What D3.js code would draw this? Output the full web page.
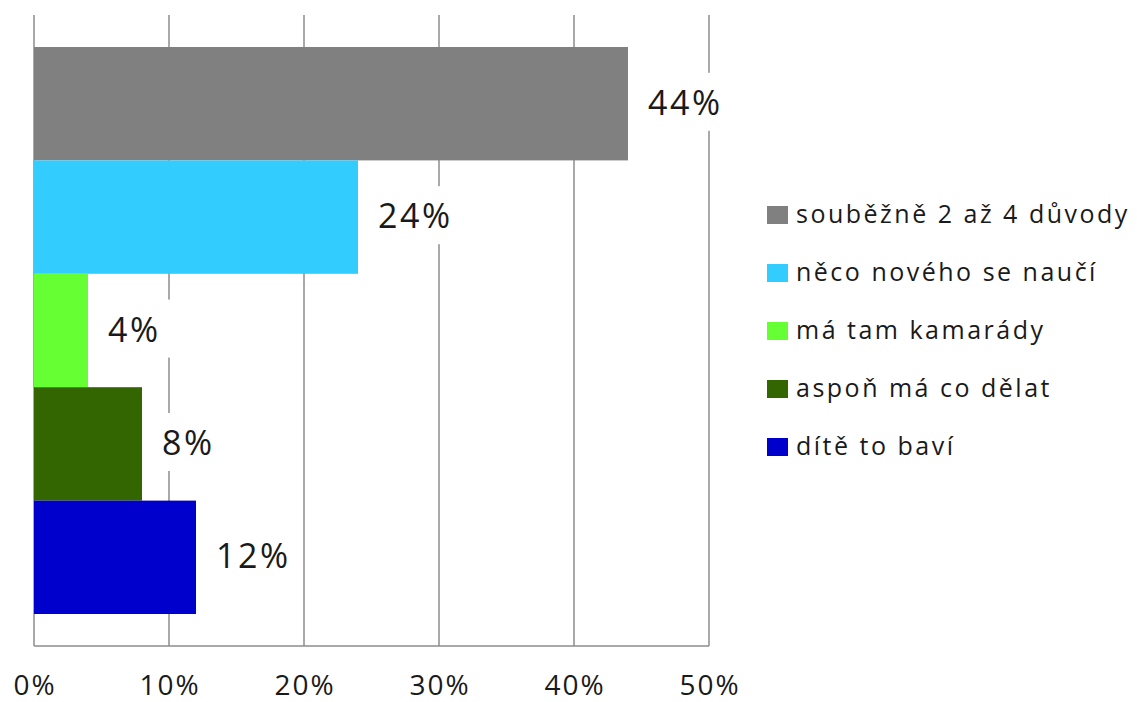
<!DOCTYPE html>
<html lang="cs">
<head>
    <meta charset="UTF-8">
    <title>Důvody</title>
    <script src="https://d3js.org/d3.v7.min.js"></script>
    <style>
        body { margin: 0; background: #fff; }
        text { font-family: "Open Sans", sans-serif; fill: #1a1a1a; }
        .grid line { stroke: #8c8c8c; stroke-width: 1.5px; }
    </style>
</head>
<body>
<div id="chart"></div>
<script>
    // data, top to bottom as drawn
    const series = ["souběžně 2 až 4 důvody", "něco nového se naučí", "má tam kamarády", "aspoň má co dělat", "dítě to baví"];
    const values = [44, 24, 4, 8, 12];
    const colors = ["#808080", "#33ccff", "#66ff33", "#336600", "#0000cc"];
    const ticks = [0, 10, 20, 30, 40, 50];

    const width = 1137, height = 702;
    const plot = { left: 34, right: 709, top: 15, bottom: 646 };

    const svg = d3.select("#chart").append("svg")
        .attr("width", width)
        .attr("height", height);

    const x = d3.scaleLinear().domain([0, 50]).range([plot.left, plot.right]);
    const y = d3.scaleBand().domain(series).range([47, 614]).paddingInner(0);

    // gridlines
    svg.append("g").attr("class", "grid")
        .selectAll("line")
        .data(ticks)
        .enter().append("line")
        .attr("x1", d => x(d)).attr("x2", d => x(d))
        .attr("y1", plot.top).attr("y2", plot.bottom);

    // bottom axis line
    svg.append("line")
        .attr("x1", plot.left).attr("x2", plot.right)
        .attr("y1", plot.bottom).attr("y2", plot.bottom)
        .attr("stroke", "#8c8c8c").attr("stroke-width", 1.5);

    // bars
    svg.append("g")
        .selectAll("rect")
        .data(series)
        .enter().append("rect")
        .attr("x", x(0))
        .attr("y", d => y(d))
        .attr("width", (d, i) => x(values[i]) - x(0))
        .attr("height", y.bandwidth())
        .attr("fill", (d, i) => colors[i]);

    // data labels with white boxes
    const labels = svg.append("g")
        .selectAll("g")
        .data(series)
        .enter().append("g");

    labels.append("rect").attr("fill", "#fff");
    labels.append("text")
        .attr("x", (d, i) => x(values[i]) + 20)
        .attr("y", d => y(d) + y.bandwidth() / 2 + 2)
        .attr("dominant-baseline", "middle")
        .style("font-size", "34px")
        .style("letter-spacing", "2.5px")
        .text((d, i) => values[i] + "%");

    labels.each(function() {
        const g = d3.select(this);
        const b = g.select("text").node().getBBox();
        g.select("rect")
            .attr("x", b.x - 12).attr("y", b.y + b.height / 2 - 29)
            .attr("width", b.width + 22).attr("height", 58);
    });

    // tick labels
    svg.append("g")
        .selectAll("text")
        .data(ticks)
        .enter().append("text")
        .attr("x", d => x(d) + 1)
        .attr("y", 695)
        .attr("text-anchor", "middle")
        .style("font-size", "28px")
        .style("letter-spacing", "2px")
        .text(d => d + "%");

    // legend
    const legend = svg.append("g")
        .selectAll("g")
        .data(series)
        .enter().append("g")
        .attr("transform", (d, i) => `translate(767, ${215 + i * 58})`);

    legend.append("rect")
        .attr("x", 0).attr("y", -9)
        .attr("width", 21).attr("height", 18)
        .attr("fill", (d, i) => colors[i]);

    legend.append("text")
        .attr("x", 29)
        .attr("y", 1)
        .attr("dominant-baseline", "middle")
        .style("font-size", "25px")
        .style("letter-spacing", "2.5px")
        .text(d => d);
</script>
</body>
</html>
